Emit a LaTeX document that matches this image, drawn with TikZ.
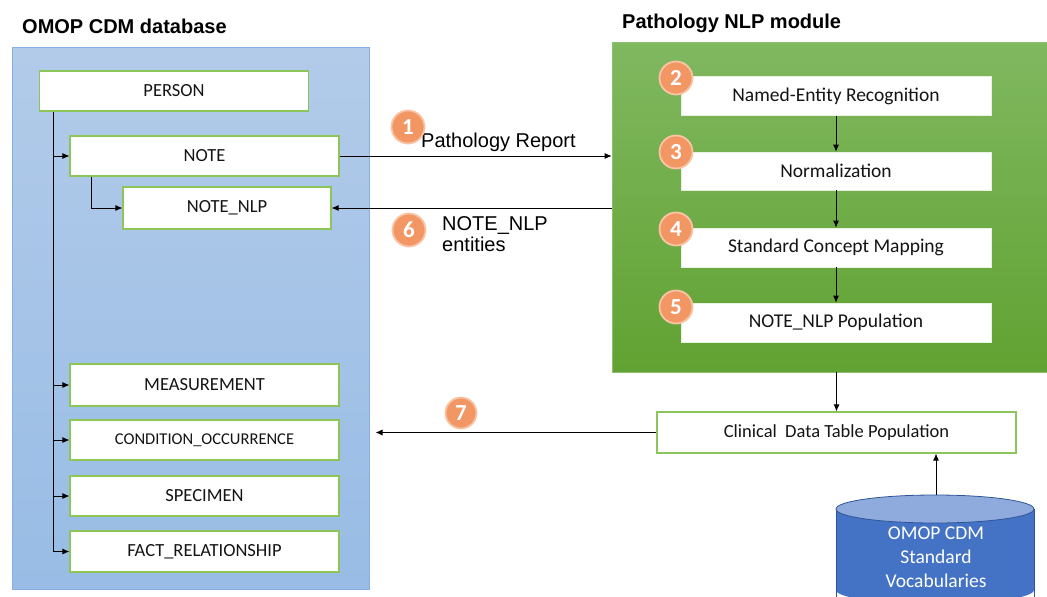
\documentclass[tikz,border=0pt]{standalone}
\usepackage{fontspec}
\setmainfont{Carlito}
\newfontfamily\arialf{Liberation Sans}
\usetikzlibrary{arrows.meta,calc}

\definecolor{dbtop}{RGB}{178,203,233}
\definecolor{dbbot}{RGB}{152,188,229}
\definecolor{dbedge}{RGB}{135,176,226}
\definecolor{nlptop}{RGB}{128,184,96}
\definecolor{nlpbot}{RGB}{97,162,50}
\definecolor{boxedge}{RGB}{140,198,88}
\definecolor{badge}{RGB}{242,150,100}
\definecolor{badgeedge}{RGB}{248,196,165}
\definecolor{cylbody}{RGB}{68,114,196}
\definecolor{cyltop}{RGB}{143,170,220}
\definecolor{cyledge}{RGB}{47,85,151}
\definecolor{txt}{RGB}{20,20,20}

\tikzset{
  tablebox/.style={draw=boxedge, line width=1.1pt, fill=white, inner sep=0pt,
    minimum width=#1, minimum height=40pt, text=txt,
    font=\fontsize{18.5}{22}\selectfont},
  tablebox/.default=269pt,
  stepbox/.style={draw=white!85!nlpbot, line width=0.6pt, fill=white, inner sep=0pt,
    minimum width=310pt, minimum height=39pt, text=txt,
    font=\fontsize{19.5}{22}\selectfont},
  badgecirc/.style={circle, fill=badge, draw=badgeedge, line width=1.8pt,
    minimum size=33pt, inner sep=0pt, text=white,
    font=\bfseries\fontsize{23}{24}\selectfont},
  arr/.style={draw=black, line width=0.9pt, -{Latex[length=7pt,width=6pt]}},
  line/.style={draw=black, line width=0.9pt},
  paneltitle/.style={anchor=base west, inner sep=0pt,
    font=\arialf\bfseries\fontsize{20}{22}\selectfont},
  flowlabel/.style={font=\arialf\fontsize{20}{21.5}\selectfont, text=black}
}

\begin{document}
\begin{tikzpicture}[x=1pt,y=-1pt]
\useasboundingbox (0,0) rectangle (1047,597);

% panel titles
\node[paneltitle] (dbtitle) at (22,34) {OMOP CDM database};
\node[paneltitle] (nlptitle) at (622,28) {Pathology NLP module};

% database panel
\node[draw=dbedge, line width=1pt, top color=dbtop, bottom color=dbbot,
      minimum width=357pt, minimum height=542pt, inner sep=0pt] (db) at (190.5,318) {};

% NLP module panel
\node[top color=nlptop, bottom color=nlpbot, draw=nlptop!90!white, line width=0.6pt,
      minimum width=435pt, minimum height=330pt, inner sep=0pt] (nlp) at (829.5,207) {};

% database tables
\node[tablebox] (person) at (174,91) {PERSON};
\node[tablebox] (note) at (204.5,156) {NOTE};
\node[tablebox=208pt, minimum height=42pt] (notenlp) at (227,208) {NOTE\_NLP};
\node[tablebox, minimum height=42pt] (meas) at (204.5,385) {MEASUREMENT};
\node[tablebox, font=\fontsize{16.5}{20}\selectfont] (cond) at (204.5,440) {CONDITION\_OCCURRENCE};
\node[tablebox] (spec) at (204.5,496) {SPECIMEN};
\node[tablebox, minimum height=41pt] (fact) at (204.5,551.5) {FACT\_RELATIONSHIP};

% links from PERSON to the other tables
\coordinate (trunk) at ($(person.south west)+(14,0)$);
\draw[line] (trunk) -- (trunk |- fact.west);
\draw[arr] (trunk |- note.west) -- (note.west);
\draw[arr] (trunk |- meas.west) -- (meas.west);
\draw[arr] (trunk |- cond.west) -- (cond.west);
\draw[arr] (trunk |- spec.west) -- (spec.west);
\draw[arr] (trunk |- fact.west) -- (fact.west);
\coordinate (notebranch) at ($(note.south west)+(22,0)$);
\draw[arr] (notebranch) |- (notenlp.west);

% NLP pipeline steps
\node[stepbox] (ner) at (836,96) {Named-Entity Recognition};
\node[stepbox, minimum height=38pt] (norm) at (836,171) {Normalization};
\node[stepbox] (scm) at (836,247.5) {Standard Concept Mapping};
\node[stepbox] (pop) at (836,322.5) {NOTE\_NLP Population};
\draw[arr] (ner) -- (norm);
\draw[arr] (norm) -- (scm);
\draw[arr] (scm) -- (pop);

% clinical table population and vocabularies
\node[tablebox=359pt, minimum height=41pt, font=\fontsize{18.5}{22}\selectfont] (clin) at (836.5,432.5) {Clinical\ \ Data Table Population};

\begin{scope}
  \clip (0,0) rectangle (1047,597);
  \fill[cylbody] (836,509) rectangle (1034,590);
  \fill[cylbody] (935,590) ellipse [x radius=99, y radius=14];
  \draw[cyledge, line width=0.8pt] (836,509) -- (836,600) (1034,509) -- (1034,600);
  \filldraw[fill=cyltop, draw=cyledge, line width=0.8pt] (935,509) ellipse [x radius=99, y radius=14];
\end{scope}
\coordinate (vocabtop) at (936,495);
\node[text=white, align=center, font=\fontsize{19.5}{24}\selectfont] (vocab) at (936,557)
  {OMOP CDM\\Standard\\Vocabularies};

% data flows between the database and the module
\draw[arr] (note.east) -- (note.east -| nlp.west);
\draw[arr] (nlp.west |- notenlp.east) -- (notenlp.east);
\draw[arr] (clin.north |- nlp.south) -- (clin.north);
\draw[arr] (vocabtop) -- (vocabtop |- clin.south);
\draw[arr, shorten >=6pt] (clin.west) -- (clin.west -| db.east);

\node[flowlabel, anchor=base west, inner sep=0pt] (lblreport) at (421,147) {Pathology Report};
\node[flowlabel, anchor=north west, align=left, inner sep=0pt] (lblent) at (442,216)
  {NOTE\_NLP\\entities};

% numbered step badges
\node[badgecirc] (b1) at (408,127) {1};
\node[badgecirc] (b2) at (676,78) {2};
\node[badgecirc] (b3) at (676,152) {3};
\node[badgecirc] (b4) at (676,229) {4};
\node[badgecirc] (b5) at (676,307) {5};
\node[badgecirc] (b6) at (409,230) {6};
\node[badgecirc, minimum size=31pt] (b7) at (461,413) {7};
\end{tikzpicture}
\end{document}
